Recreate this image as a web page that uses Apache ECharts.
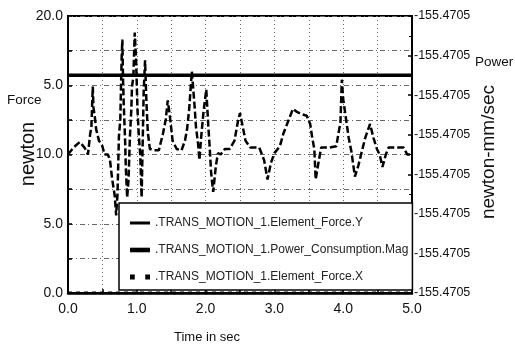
<!DOCTYPE html>
<html><head><meta charset="utf-8">
<script src="https://cdn.jsdelivr.net/npm/echarts@6/dist/echarts.min.js"></script>
<style>html,body{margin:0;padding:0;background:#fff}#c{width:515px;height:358px}</style>
</head><body><div id="c"></div>
<script>
// ---- data ----
const timeSec = [0.00,0.08,0.17,0.24,0.29,0.32,0.34,0.36,0.37,0.39,0.41,0.45,0.50,0.53,0.58,0.61,0.64,0.68,0.70,0.72,
  0.74,0.76,0.77,0.78,0.79,0.80,0.81,0.83,0.84,0.86,0.88,0.90,0.92,0.93,0.95,0.97,0.99,1.01,1.03,1.05,
  1.07,1.09,1.10,1.12,1.14,1.16,1.19,1.25,1.32,1.38,1.42,1.45,1.48,1.52,1.58,1.65,1.70,1.73,1.76,1.80,
  1.84,1.86,1.89,1.91,1.94,1.97,2.01,2.04,2.06,2.08,2.11,2.15,2.18,2.22,2.28,2.35,2.42,2.47,2.50,2.54,
  2.58,2.65,2.78,2.85,2.90,2.95,3.00,3.08,3.13,3.20,3.27,3.32,3.40,3.47,3.52,3.55,3.58,3.60,3.64,3.68,
  3.80,3.90,3.93,3.96,3.98,4.00,4.04,4.08,4.12,4.17,4.22,4.27,4.32,4.39,4.44,4.49,4.53,4.57,4.62,4.66,
  4.80,4.88,4.93,5.00];
const forceY = [10.0,10.5,10.9,10.5,10.0,11.4,12.0,14.9,13.4,12.7,11.8,11.0,10.6,10.0,10.0,9.6,8.3,7.0,5.6,7.2,
  11.3,12.5,14.8,17.0,18.3,15.4,13.7,11.0,9.1,6.9,8.2,11.3,13.2,14.9,15.6,18.8,16.8,13.2,11.3,10.0,
  6.9,12.0,14.5,16.8,13.8,11.6,10.4,10.3,10.3,11.5,12.5,13.9,12.8,11.0,10.4,10.3,11.0,11.8,13.2,16.0,
  13.5,12.0,10.8,9.6,11.5,13.1,14.7,12.0,10.5,8.7,7.3,9.2,10.1,10.0,10.4,10.4,11.0,12.4,13.0,12.0,
  11.0,10.5,10.5,9.6,8.2,9.4,10.1,10.6,11.5,12.4,13.3,13.1,12.9,12.8,12.2,11.2,10.4,8.2,9.4,10.5,
  10.5,10.6,11.5,12.3,15.4,14.0,12.6,11.2,10.2,8.4,9.2,10.2,11.2,12.2,11.2,10.4,10.0,9.1,10.0,10.5,
  10.5,10.5,10.0,10.0];
const powerTime = [0, 5];
const powerMag = [-155.470485, -155.470485];
const forceXTime = [0, 5];
const forceX = [0, 0];
const seriesNames = ['.TRANS_MOTION_1.Element_Force.Y', '.TRANS_MOTION_1.Power_Consumption.Mag', '.TRANS_MOTION_1.Element_Force.X'];
const leftTickValues = [0, 5, 10, 15, 20];
const leftTickLabels = ['0.0', '5.0', '10.0', '5.0', '20.0'];
const xTickValues = [0, 1, 2, 3, 4, 5];
const xTickLabels = ['0.0', '1.0', '2.0', '3.0', '4.0', '5.0'];
const rightTickLabel = '-155.4705';

const SANS = "'Liberation Sans', Arial, sans-serif";
const pairs = (xs, ys) => xs.map((x, i) => [x, ys[i]]);

const chart = echarts.init(document.getElementById('c'), null, {renderer: 'canvas'});
chart.setOption({
  backgroundColor: '#fff',
  animation: false,
  grid: {left: 68, right: 103, top: 16, bottom: 65, show: true, borderColor: '#000', borderWidth: 2, containLabel: false},
  xAxis: {
    type: 'value', min: 0, max: 5, interval: 0.5,
    axisLine: {lineStyle: {color: '#000', width: 2.5}},
    axisTick: {inside: true, length: 4, lineStyle: {color: '#000', width: 1.5}},
    axisLabel: {
      margin: 9, color: '#111', fontFamily: SANS, fontSize: 14,
      formatter: v => { const k = xTickValues.findIndex(t => Math.abs(t - v) < 1e-6); return k >= 0 ? xTickLabels[k] : ''; }
    },
    splitLine: {show: true, lineStyle: {color: '#666', width: 1, type: [1, 3]}}
  },
  yAxis: [{
    type: 'value', min: 0, max: 20, interval: 2.5, position: 'left',
    axisLine: {show: true, lineStyle: {color: '#000', width: 2}},
    axisTick: {inside: true, length: 4, lineStyle: {color: '#000', width: 1.5}},
    axisLabel: {
      margin: 5, color: '#111', fontFamily: SANS, fontSize: 14, padding: [6, 0, 0, 0],
      formatter: v => { const k = leftTickValues.findIndex(t => Math.abs(t - v) < 1e-6); return k >= 0 ? leftTickLabels[k] : ''; }
    },
    splitLine: {show: true, lineStyle: {color: '#666', width: 1, type: [5, 3, 1, 3]}}
  }, {
    type: 'value', min: -155.47054, max: -155.47047, interval: 0.00001, position: 'right',
    axisLine: {show: true, lineStyle: {color: '#000', width: 2}},
    axisTick: {show: true, inside: true, length: 4, lineStyle: {color: '#000', width: 1.5}},
    minorTick: {show: true, splitNumber: 2, length: 3, lineStyle: {color: '#000'}},
    axisLabel: {margin: 2, color: '#111', fontFamily: SANS, fontSize: 12.5, formatter: () => rightTickLabel},
    splitLine: {show: false}
  }],
  legend: {
    orient: 'vertical', left: 119, top: 203,
    padding: [11, 4, 4, 11], itemGap: 9, itemWidth: 20, itemHeight: 14,
    backgroundColor: '#fff', borderColor: '#000', borderWidth: 1.5, borderRadius: 0,
    textStyle: {fontFamily: SANS, fontSize: 12, color: '#222', lineHeight: 18},
    data: [
      {name: seriesNames[0], icon: 'path://M0,6 L20,6 L20,9 L0,9 Z', itemStyle: {color: '#000'}},
      {name: seriesNames[1], icon: 'path://M0,6 L13,6 L13,9 L0,9 Z', itemStyle: {color: '#000'}},
      {name: seriesNames[2], icon: 'path://M2,6 L4.5,6 L4.5,8.5 L2,8.5 Z M10,6 L12.5,6 L12.5,8.5 L10,8.5 Z', itemStyle: {color: '#000'}}
    ]
  },
  series: [{
    name: seriesNames[0], type: 'line', yAxisIndex: 0, data: pairs(timeSec, forceY),
    showSymbol: false, symbol: 'none', z: 3,
    lineStyle: {color: '#000', width: 2.5, type: [7, 3]}, itemStyle: {color: '#000'}
  }, {
    name: seriesNames[1], type: 'line', yAxisIndex: 1, data: pairs(powerTime, powerMag),
    showSymbol: false, symbol: 'none', z: 3,
    lineStyle: {color: '#000', width: 3.5}, itemStyle: {color: '#000'}
  }, {
    name: seriesNames[2], type: 'line', yAxisIndex: 0, data: pairs(forceXTime, forceX),
    showSymbol: false, symbol: 'none', z: 3,
    lineStyle: {color: '#000', width: 3, type: [4, 4]}, itemStyle: {color: '#000'}
  }],
  graphic: [
    {type: 'text', left: 7, top: 93, style: {text: 'Force', font: "13.5px " + SANS, fill: '#111'}},
    {type: 'text', x: 28, y: 154, rotation: Math.PI / 2, style: {text: 'newton', font: "20px " + SANS, fill: '#111', align: 'center', verticalAlign: 'middle'}},
    {type: 'text', left: 475, top: 55, style: {text: 'Power', font: "13.5px " + SANS, fill: '#111'}},
    {type: 'text', x: 489, y: 152, rotation: Math.PI / 2, style: {text: 'newton-mm/sec', font: "19px " + SANS, fill: '#111', align: 'center', verticalAlign: 'middle'}},
    {type: 'text', x: 207, y: 337, style: {text: 'Time in sec', font: "13px " + SANS, fill: '#111', align: 'center', verticalAlign: 'middle'}}
  ]
});
</script></body></html>
